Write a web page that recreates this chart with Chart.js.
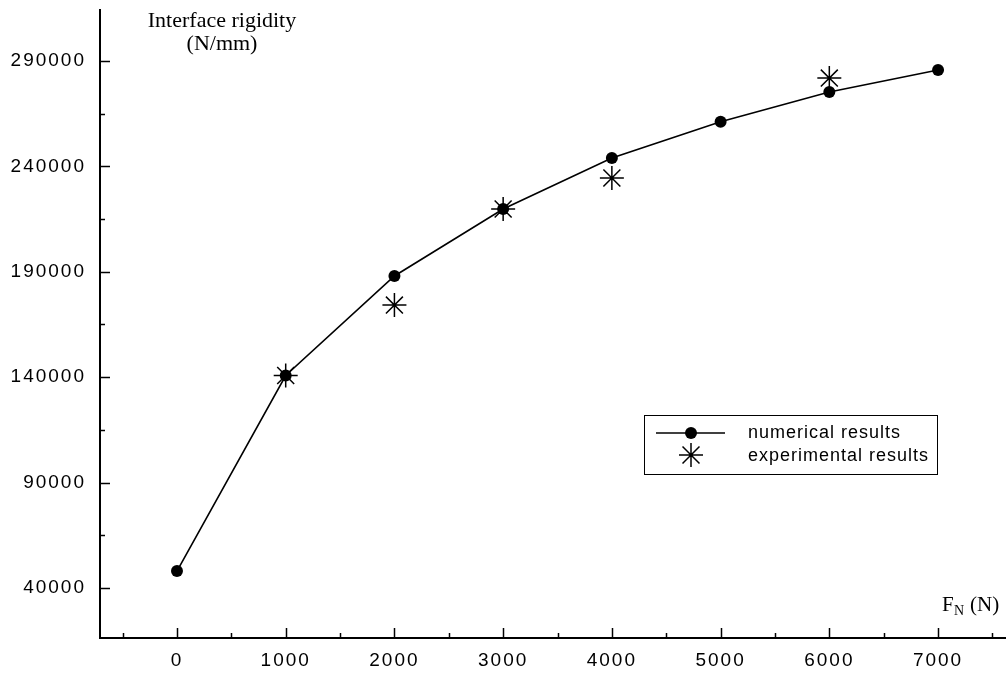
<!DOCTYPE html>
<html>
<head>
<meta charset="utf-8">
<script src="https://cdn.jsdelivr.net/npm/chart.js@4/dist/chart.umd.min.js"></script>
<style>
  html, body { margin: 0; padding: 0; background: #fff; }
  #wrap { width: 1006px; height: 676px; position: relative; }
</style>
</head>
<body>
<div id="wrap"><canvas id="chart"></canvas></div>
<script>
// load values (N)
const loads = [0, 1000, 2000, 3000, 4000, 5000, 6000, 7000];
// numerical results (N/mm)
const numerical = [48000, 140800, 188000, 219800, 244000, 261200, 275300, 285700];
// experimental results: only measured at some loads
const expLoads = [1000, 2000, 3000, 4000, 6000];
const experimental = [140800, 174200, 219800, 234500, 281900];

const xTicks = [-500, 0, 500, 1000, 1500, 2000, 2500, 3000, 3500, 4000, 4500, 5000, 5500, 6000, 6500, 7000, 7500];
const yTicks = [40000, 65000, 90000, 115000, 140000, 165000, 190000, 215000, 240000, 265000, 290000];

const FONT_SANS = '"Liberation Sans", Arial, sans-serif';
const FONT_SERIF = '"Liberation Serif", "Times New Roman", serif';

// short tick marks pointing into the plot, long for labelled ticks
const tickMarks = {
    id: 'tickMarks',
    beforeDraw(chart) {
        chart.ctx.letterSpacing = '2px';
    },
    afterDraw(chart) {
        const ctx = chart.ctx;
        const xs = chart.scales.x, ys = chart.scales.y;
        const a = chart.chartArea;
        ctx.save();
        ctx.strokeStyle = '#000';
        ctx.lineWidth = 1.5;
        xs.ticks.forEach(t => {
            const px = Math.round(xs.getPixelForValue(t.value)) + 0.5;
            const len = (t.value % 1000 === 0) ? 10 : 5;
            ctx.beginPath();
            ctx.moveTo(px, a.bottom);
            ctx.lineTo(px, a.bottom - len);
            ctx.stroke();
        });
        ys.ticks.forEach(t => {
            const py = Math.round(ys.getPixelForValue(t.value)) + 0.5;
            const len = ((t.value - 40000) % 50000 === 0) ? 10 : 5;
            ctx.beginPath();
            ctx.moveTo(a.left, py);
            ctx.lineTo(a.left + len, py);
            ctx.stroke();
        });

        // axis titles
        ctx.letterSpacing = '0px';
        ctx.fillStyle = '#000';
        ctx.font = '22px ' + FONT_SERIF;
        ctx.textAlign = 'center';
        ctx.textBaseline = 'middle';
        ctx.fillText('Interface rigidity', 222, 21);
        ctx.fillText('(N/mm)', 222, 44);

        ctx.textAlign = 'left';
        ctx.font = '21px ' + FONT_SERIF;
        ctx.fillText('F', 942, 605);
        ctx.font = '14px ' + FONT_SERIF;
        ctx.fillText('N', 954, 611);
        ctx.font = '21px ' + FONT_SERIF;
        ctx.fillText('(N)', 970, 605);

        // legend box
        const lx = 644, ly = 415, lw = 293, lh = 59;
        ctx.lineWidth = 1;
        ctx.strokeRect(lx + 0.5, ly + 0.5, lw, lh);
        const d0 = chart.data.datasets[0], d1 = chart.data.datasets[1];
        ctx.lineWidth = d0.borderWidth;
        ctx.beginPath();
        ctx.moveTo(656, 433);
        ctx.lineTo(725, 433);
        ctx.stroke();
        ctx.fillStyle = '#000';
        ctx.beginPath();
        ctx.arc(691, 433, d0.pointRadius, 0, Math.PI * 2);
        ctx.fill();
        ctx.strokeStyle = '#000';
        ctx.lineWidth = d1.pointBorderWidth;
        Chart.helpers.drawPoint(ctx, { pointStyle: 'star', radius: d1.pointRadius, borderWidth: d1.pointBorderWidth }, 691, 455);

        ctx.letterSpacing = '1px';
        ctx.fillStyle = '#000';
        ctx.font = '18px ' + FONT_SANS;
        ctx.textAlign = 'left';
        ctx.textBaseline = 'middle';
        ctx.fillText(d0.label, 748, 433);
        ctx.fillText(d1.label, 748, 456);
        ctx.restore();
    }
};

function noEdgePadding(s) {
    s.paddingLeft = 0;
    s.paddingRight = 0;
    s.paddingTop = 0;
    s.paddingBottom = 0;
}

const ctx = document.getElementById('chart').getContext('2d');
new Chart(ctx, {
    type: 'scatter',
    data: {
        datasets: [{
            label: 'numerical results',
            data: loads.map((x, i) => ({ x: x, y: numerical[i] })),
            showLine: true,
            borderColor: '#000',
            backgroundColor: '#000',
            borderWidth: 1.6,
            pointRadius: 6,
            pointStyle: 'circle',
            pointBorderWidth: 0,
            pointBackgroundColor: '#000',
            tension: 0
        }, {
            label: 'experimental results',
            data: expLoads.map((x, i) => ({ x: x, y: experimental[i] })),
            showLine: false,
            borderColor: '#000',
            backgroundColor: '#000',
            pointStyle: 'star',
            pointRadius: 12,
            pointBorderWidth: 1.5,
            pointBorderColor: '#000'
        }]
    },
    options: {
        responsive: true,
        maintainAspectRatio: false,
        animation: false,
        devicePixelRatio: 1,
        layout: { autoPadding: false, padding: { top: 10, right: 0, left: 0, bottom: 0 } },
        plugins: {
            legend: { display: false },
            tooltip: { enabled: false }
        },
        scales: {
            x: {
                type: 'linear',
                min: -708,
                max: 7625,
                afterBuildTicks: s => { s.ticks = xTicks.map(v => ({ value: v })); },
                afterFit: s => { s.height = 38; noEdgePadding(s); },
                grid: { display: false, drawTicks: false },
                border: { display: true, color: '#000', width: 2 },
                ticks: {
                    padding: 11,
                    color: '#000',
                    maxRotation: 0,
                    autoSkip: false,
                    font: { family: FONT_SANS, size: 19 },
                    callback: v => (v >= 0 && v % 1000 === 0) ? String(v) : ''
                }
            },
            y: {
                type: 'linear',
                min: 16270,
                max: 314200,
                afterBuildTicks: s => { s.ticks = yTicks.map(v => ({ value: v })); },
                afterFit: s => { s.width = 100; noEdgePadding(s); },
                grid: { display: false, drawTicks: false },
                border: { display: true, color: '#000', width: 2 },
                ticks: {
                    padding: 14,
                    color: '#000',
                    autoSkip: false,
                    font: { family: FONT_SANS, size: 19 },
                    callback: v => ((v - 40000) % 50000 === 0) ? String(v) : ''
                }
            }
        }
    },
    plugins: [tickMarks]
});
</script>
</body>
</html>
